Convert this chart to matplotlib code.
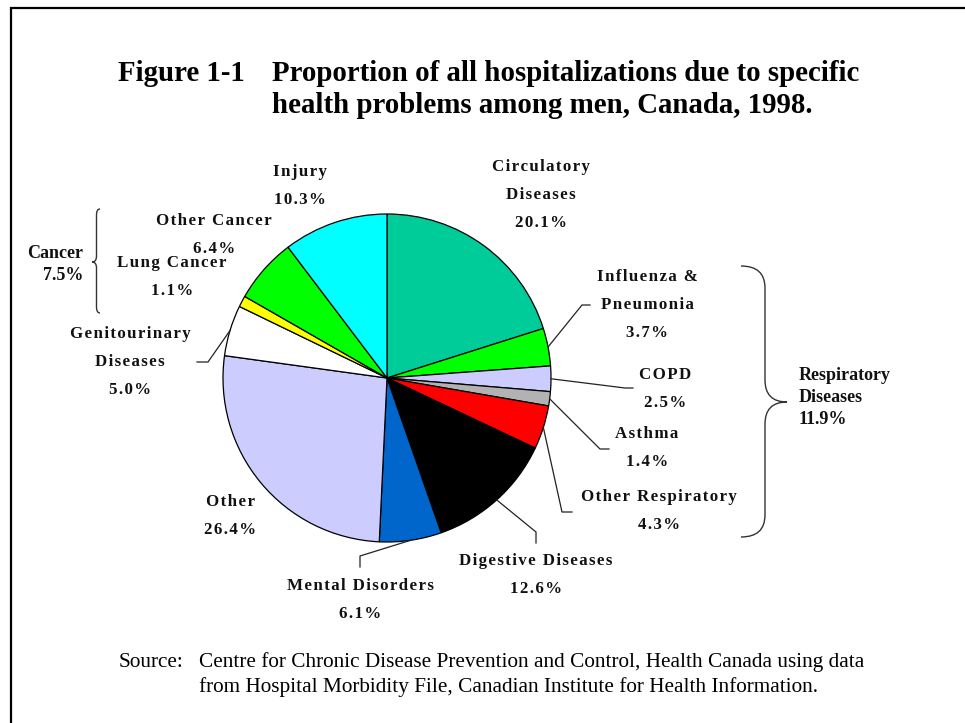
import numpy as np
import matplotlib
matplotlib.use("Agg")
import matplotlib.pyplot as plt
from matplotlib.path import Path
from matplotlib.patches import PathPatch
from matplotlib.lines import Line2D

# ---------------- data ----------------
categories = ["Circulatory Diseases", "Influenza & Pneumonia", "COPD", "Asthma",
              "Other Respiratory", "Digestive Diseases", "Mental Disorders", "Other",
              "Genitourinary Diseases", "Lung Cancer", "Other Cancer", "Injury"]
label_names = ["Circulatory\nDiseases", "Influenza &\nPneumonia", "COPD", "Asthma",
               "Other Respiratory", "Digestive Diseases", "Mental Disorders", "Other",
               "Genitourinary\nDiseases", "Lung Cancer", "Other Cancer", "Injury"]
shares = [20.1, 3.7, 2.5, 1.4, 4.3, 12.6, 6.1, 26.4, 5.0, 1.1, 6.4, 10.3]
colors = ["#00CC99", "#00FF00", "#CCCCFF", "#B2B2B2", "#FF0000", "#000000",
          "#0066CC", "#CCCCFF", "#FFFFFF", "#FFFF00", "#00FF00", "#00FFFF"]
group_names = ["Cancer", "Respiratory\nDiseases"]
group_shares = [7.5, 11.9]

title_num = "Figure 1-1"
title_lines = ["Proportion of all hospitalizations due to specific",
               "health problems among men, Canada, 1998."]
source_head = "Source:"
source_lines = ["Centre for Chronic Disease Prevention and Control, Health Canada using data",
                "from Hospital Morbidity File, Canadian Institute for Health Information."]

# ---------------- layout (pixels, y from top) ----------------
W, H = 965, 723
PIE_C = (387, 378)
PIE_R = 164
label_pos = [(541, 167), (647, 277), (665, 375), (647, 434), (659, 497), (536, 561),
             (360, 586), (230, 502), (130, 334), (172, 263), (214, 221), (300, 172)]
LINE_GAP = 27.8
# leader elbows / ends for labelled slices (index -> [elbow, end])
leaders = {1: [(582, 305), (590, 305)],
           2: [(625, 388), (633, 388)],
           3: [(600, 449), (609, 449)],
           4: [(562, 512), (572, 512)],
           5: [(536, 532), (536, 543)],
           6: [(360, 556), (360, 567)],
           8: [(208, 362), (197, 362)]}

SERIF = ["Liberation Serif", "DejaVu Serif"]

fig = plt.figure(figsize=(W / 100, H / 100), dpi=100)
ax = fig.add_axes([0, 0, 1, 1])


def Y(y):
    return H - y


wedges, _ = ax.pie(shares, colors=colors, startangle=90, counterclock=False,
                   center=(PIE_C[0], Y(PIE_C[1])), radius=PIE_R,
                   wedgeprops=dict(edgecolor="black", linewidth=0.9))
ax.set_xlim(0, W)
ax.set_ylim(0, H)
ax.set_aspect("equal")
ax.axis("off")


def track(s):
    return "\u200a".join(s)


# slice labels
for i, (name, val) in enumerate(zip(label_names, shares)):
    lines = name.split("\n") + [f"{val:.1f}%"]
    x0, y0 = label_pos[i]
    for k, ln in enumerate(lines):
        ax.text(x0, Y(y0 + k * LINE_GAP), track(ln), ha="center", va="center",
                fontsize=12.2, fontweight="bold", family=SERIF, color="#111111")

# leader lines
for i, pts in leaders.items():
    w = wedges[i]
    th = np.deg2rad((w.theta1 + w.theta2) / 2)
    cx, cy = w.center
    sx, sy = cx + w.r * np.cos(th), cy + w.r * np.sin(th)
    xs = [sx] + [p[0] for p in pts]
    ys = [sy] + [Y(p[1]) for p in pts]
    ax.add_line(Line2D(xs, ys, color="#222222", lw=0.9))


# braces
def brace(x0, xv, xt, ytop, ymid, ybot, r):
    verts = [(x0, ytop), (xv, ytop), (xv, ytop + r),
             (xv, ymid - r), (xv, ymid), (xt, ymid),
             (xv, ymid), (xv, ymid + r),
             (xv, ybot - r), (xv, ybot), (x0, ybot)]
    codes = [Path.MOVETO, Path.CURVE3, Path.CURVE3,
             Path.LINETO, Path.CURVE3, Path.CURVE3,
             Path.CURVE3, Path.CURVE3,
             Path.LINETO, Path.CURVE3, Path.CURVE3]
    verts = [(vx, Y(vy)) for vx, vy in verts]
    ax.add_patch(PathPatch(Path(verts, codes), fill=False, edgecolor="#333333", lw=1.0))


brace(100, 96.5, 92, 209, 262, 313, 6)
brace(741, 765, 787, 266, 402, 537, 22)

# group labels
cancer_lines = [group_names[0], f"{group_shares[0]:.1f}%"]
for k, ln in enumerate(cancer_lines):
    ax.text(83, Y(253 + k * 23), ln, ha="right", va="center", fontsize=13,
            fontweight="bold", family=SERIF, color="#111111")
resp_lines = group_names[1].split("\n") + [f"{group_shares[1]:.1f}%"]
for k, ln in enumerate(resp_lines):
    ax.text(799, Y(375 + k * 22.5), ln, ha="left", va="center", fontsize=13,
            fontweight="bold", family=SERIF, color="#111111")

# title
ax.text(118, Y(81), title_num, ha="left", va="baseline", fontsize=20.8,
        fontweight="bold", family=SERIF)
for k, ln in enumerate(title_lines):
    ax.text(272, Y(81 + k * 32), ln, ha="left", va="baseline", fontsize=20.8,
            fontweight="bold", family=SERIF)

# source
ax.text(119, Y(667), source_head, ha="left", va="baseline", fontsize=15.3, family=SERIF)
for k, ln in enumerate(source_lines):
    ax.text(199, Y(667 + k * 25), ln, ha="left", va="baseline", fontsize=15.3, family=SERIF)

# frame
ax.add_line(Line2D([11, 11, W], [0, Y(8), Y(8)], color="black", lw=1.6,
                   solid_joinstyle="miter"))

fig.savefig("out.png", dpi=100, facecolor="white")
